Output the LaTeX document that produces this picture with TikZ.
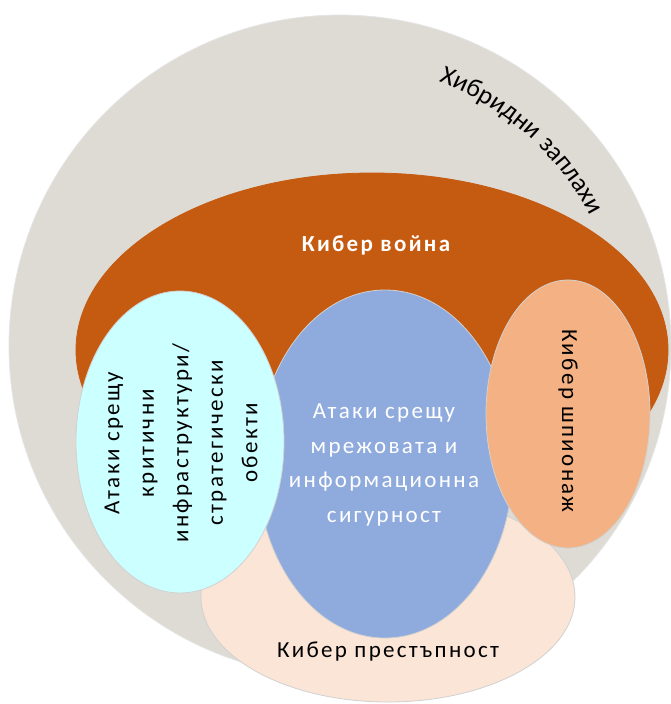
\documentclass[tikz,border=0pt]{standalone}
\usepackage{fontspec}
\setmainfont{Carlito}
\newfontfamily\spaced[LetterSpace=10]{Carlito}
\newfontfamily\arcfont[LetterSpace=4]{Carlito}
\usetikzlibrary{shapes.geometric,decorations.text}
\definecolor{greyc}{HTML}{DDDBD3}
\definecolor{warc}{HTML}{C55A11}
\definecolor{crimec}{HTML}{FBE5D6}
\definecolor{netc}{HTML}{8FAADC}
\definecolor{infrac}{HTML}{CCFFFF}
\definecolor{spyc}{HTML}{F4B183}
\tikzset{
  blob/.style={ellipse, inner sep=0pt, outer sep=0pt, draw=black!18, line width=0.8pt},
  lbl/.style={align=center, inner sep=0pt, font=\spaced\fontsize{23}{34.5}\selectfont},
}
\begin{document}
\begin{tikzpicture}[x=1pt,y=-1pt]
\useasboundingbox (0,0) rectangle (670,704);
\node (hyb) [blob, fill=greyc, draw=black!10, minimum width=662pt, minimum height=662pt] at (340,346) {};
\node (war) [blob, fill=warc, draw=warc, minimum width=592pt, minimum height=354pt] at (372,350) {};
\node (crime) [blob, fill=crimec, minimum width=374pt, minimum height=210pt] at (388,597) {};
\node (net) [blob, fill=netc, minimum width=256pt, minimum height=348pt] at (385,464) {};
\node (infra) [blob, fill=infrac, minimum width=208pt, minimum height=302pt] at (180,442) {};
\node (spy) [blob, fill=spyc, minimum width=164pt, minimum height=268pt] at (568,414) {};
% texts
\path[decorate, decoration={text along path, text align=center,
  text={|\arcfont\fontsize{26}{30}\selectfont|Хибридни заплахи}}]
  (hyb.center) ++(-75:282) arc[start angle=-75, end angle=-22, radius=282];
\node (warlbl) [lbl, text=white, font=\spaced\bfseries\fontsize{23}{28}\selectfont] at (376,245) {Кибер война};
\node (netlbl) [lbl, text=white] at (384,465) {Атаки срещу\\мрежовата и\\информационна\\сигурност};
\node (infralbl) [lbl, rotate=90] at (181,443) {Атаки срещу\\критични\\инфраструктури/\\стратегически\\обекти};
\node (spylbl) [lbl, rotate=-90] at (568,421) {Кибер шпионаж};
\node (crimelbl) [lbl] at (388,652) {Кибер престъпност};
\end{tikzpicture}
\end{document}
